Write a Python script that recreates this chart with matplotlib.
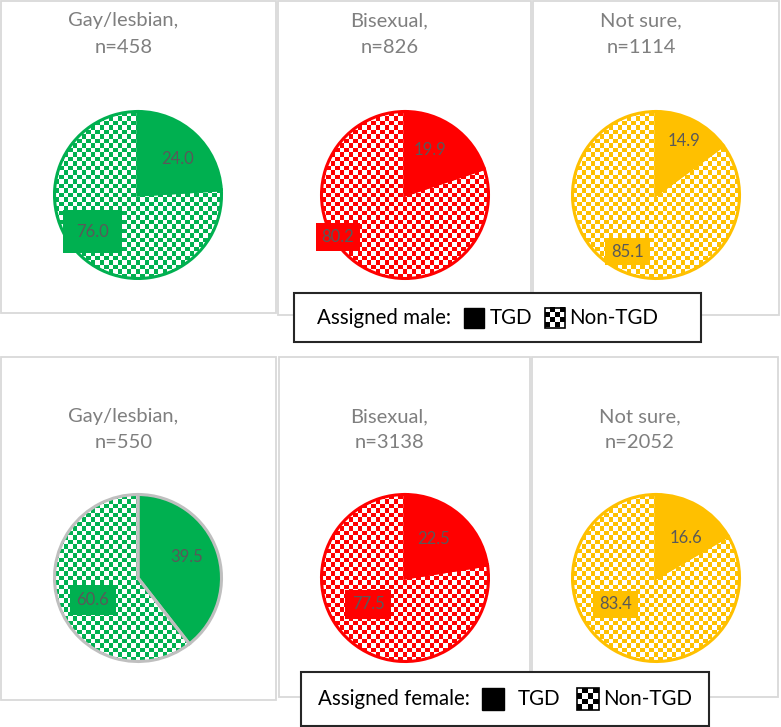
import numpy as np
import matplotlib.pyplot as plt
from matplotlib.colors import ListedColormap
from matplotlib.patches import Rectangle

# ── Data ─────────────────────────────────────────────────────────────────────
groups = ["Gay/lesbian", "Bisexual", "Not sure"]
male_n = [458, 826, 1114]
female_n = [550, 3138, 2052]
male_tgd = [24.0, 19.9, 14.9]
male_non = [76.0, 80.2, 85.1]
female_tgd = [39.5, 22.5, 16.6]
female_non = [60.6, 77.5, 83.4]
legend_titles = ["Assigned male:", "Assigned female:"]

# ── Style ────────────────────────────────────────────────────────────────────
COLORS = ["#00B050", "#FF0000", "#FFC000"]
TITLE_COLOR = "#7F7F7F"
LABEL_COLOR = "#595959"
PANEL_EDGE = "#D9D9D9"
W, H = 781, 727
plt.rcParams["font.family"] = ["Lato", "DejaVu Sans"]

# pixel layout (x0, y0, x1, y1), y measured from top
PANELS = [[(1, 1, 276, 313), (278, 1, 531, 315), (533, 1, 779, 315)],
          [(1, 357, 276, 700), (279, 357, 530, 697), (532, 357, 778, 697)]]
PIE_X = [138, 405, 656]
PIE_Y = [195, 578]
R = 83.5
TITLE_BASE = [(26, 53), (422, 448)]
CELL = 4.5  # checker square, px
# label placement: (radius, angle offset from wedge middle) for TGD / non-TGD
LABEL_POS = [[((0.64, -5), (0.70, -8)), ((0.62, 7), (0.95, -22)), ((0.73, 0), (0.76, 0))],
             [((0.63, 4), (0.60, 7)), ((0.58, 5), (0.54, -14)), ((0.60, -7), (0.58, -27))]]
LABEL_PAD = [[0.8, 0.35, 0.35], [0.4, 0.4, 0.35]]
PIE_EDGE = [[None, None, None], ["#BFBFBF", None, None]]
LEGEND_BOX = [(294, 293, 701, 342), (301, 672, 709, 726)]
LEGEND_ITEMS = [  # text x, black square x0, "TGD" x, checker x0, "Non-TGD" x, square size
    (317, 464, 490, 545, 569, 20),
    (318, 482, 518, 577, 603, 22),
]

fig = plt.figure(figsize=(W / 100, H / 100), dpi=100)
base = fig.add_axes([0, 0, 1, 1])
base.set_xlim(0, W)
base.set_ylim(H, 0)
base.axis("off")


def checker(n, color):
    idx = np.indices((n, n)).sum(axis=0) % 2
    return idx, ListedColormap(["white", color])


rows = [(male_n, male_tgd, male_non), (female_n, female_tgd, female_non)]
for r, (ns, tgd, non) in enumerate(rows):
    for c in range(3):
        x0, y0, x1, y1 = PANELS[r][c]
        base.add_patch(Rectangle((x0, y0), x1 - x0, y1 - y0, fill=False,
                                 edgecolor=PANEL_EDGE, linewidth=1.3, zorder=1))
        tx = (x0 + x1) / 2 - 15
        base.text(tx, TITLE_BASE[r][0], f"{groups[c]},", ha="center", va="baseline",
                  fontsize=14.5, color=TITLE_COLOR)
        base.text(tx, TITLE_BASE[r][1], f"n={ns[c]}", ha="center", va="baseline",
                  fontsize=14.5, color=TITLE_COLOR)

        color = COLORS[c]
        edge = PIE_EDGE[r][c] or color
        lim = 1.35
        side = 2 * R * lim
        cx, cy = PIE_X[c], PIE_Y[r]
        ax = fig.add_axes([(cx - side / 2) / W, 1 - (cy + side / 2) / H, side / W, side / H])
        ax.set_facecolor("none")
        wedges, _ = ax.pie([tgd[c], non[c]], startangle=90, counterclock=False,
                           colors=[color, "none"], radius=1,
                           wedgeprops=dict(edgecolor=edge, linewidth=2.2))
        for w in wedges:
            w.set_zorder(3)
        n_cells = int(round(2.1 * R / CELL))
        arr, cmap = checker(n_cells, color)
        im = ax.imshow(arr, cmap=cmap, extent=(-1.05, 1.05, -1.05, 1.05),
                       interpolation="nearest", zorder=2, aspect="auto")
        im.set_clip_path(wedges[1])
        ax.set_xlim(-lim, lim)
        ax.set_ylim(-lim, lim)
        ax.set_aspect("equal")
        ax.axis("off")

        for k, (w, val) in enumerate(zip(wedges, [tgd[c], non[c]])):
            rad, off = LABEL_POS[r][c][k]
            ang = np.deg2rad((w.theta1 + w.theta2) / 2 + off)
            bbox = None
            if k == 1:
                bbox = dict(boxstyle=f"square,pad={LABEL_PAD[r][c]}", fc=color, ec="none")
            ax.text(rad * np.cos(ang), rad * np.sin(ang), f"{val:.1f}", ha="center",
                    va="center", fontsize=12, color=LABEL_COLOR, bbox=bbox, zorder=5)

# legends
for i, (bx0, by0, bx1, by1) in enumerate(LEGEND_BOX):
    base.add_patch(Rectangle((bx0, by0), bx1 - bx0, by1 - by0, facecolor="white",
                             edgecolor="#262626", linewidth=1.5, zorder=4))
    tx, sq0, tgd_x, ch0, non_x, s = LEGEND_ITEMS[i]
    ymid = (by0 + by1) / 2
    base.text(tx, ymid, legend_titles[i], ha="left", va="center", fontsize=14.8,
              color="black", zorder=5)
    base.add_patch(Rectangle((sq0, ymid - s / 2), s, s, facecolor="black",
                             edgecolor="black", zorder=5))
    base.text(tgd_x, ymid, "TGD", ha="left", va="center", fontsize=14.8, color="black", zorder=5)
    arr, cmap = checker(4, "black")
    base.imshow(arr, cmap=cmap, extent=(ch0, ch0 + s, ymid + s / 2, ymid - s / 2),
                interpolation="nearest", zorder=5, aspect="auto")
    base.add_patch(Rectangle((ch0, ymid - s / 2), s, s, fill=False,
                             edgecolor="black", linewidth=1.2, zorder=6))
    base.text(non_x, ymid, "Non-TGD", ha="left", va="center", fontsize=14.8,
              color="black", zorder=5)

base.set_xlim(0, W)
base.set_ylim(H, 0)

fig.savefig("out.png", dpi=100)
